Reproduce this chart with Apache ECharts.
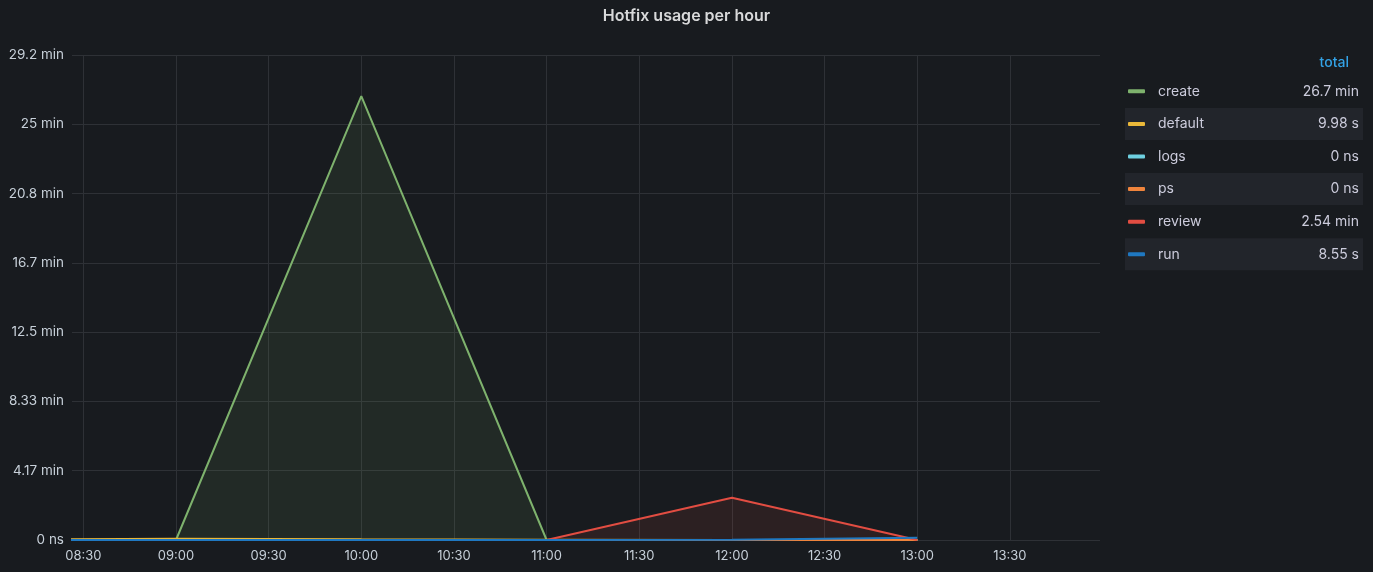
<!DOCTYPE html>
<html>
<head>
<meta charset="utf-8">
<script src="https://cdn.jsdelivr.net/npm/echarts@6/dist/echarts.min.js"></script>
<style>
html,body{margin:0;padding:0;background:#181b1f;}
#c{width:1373px;height:572px;}
</style>
</head>
<body>
<div id="c"></div>
<script>
// ---- data ----
const times = ['08:00', '09:00', '10:00', '11:00', '12:00', '13:00'];
const seriesNames = ['create', 'default', 'logs', 'ps', 'review', 'run'];
// values in seconds
const createVals  = [0, 0, 1602, 0, 0, 0];
const defaultVals = [2.0, 4.5, 2.5, 0.98, 0, 0];
const logsVals    = [0, 0, 0, 0, 0, 0];
const psVals      = [0, 0, 0, 0, 0, 0];
const reviewVals  = [0, 0, 0, 0, 152.4, 0];
const runVals     = [0, 0, 0, 0, 0.5, 8.05];
const yTickLabels = ['0 ns', '4.17 min', '8.33 min', '12.5 min', '16.7 min', '20.8 min', '25 min', '29.2 min'];
const xTickRange = ['08:30', '13:30'];   // first / last labelled tick, every 30 min
const xRange = ['08:26:20', '13:59:10']; // visible time window
const legendHeader = 'total';

// ---- helpers ----
function ts(s) {
  const p = s.split(':').map(Number);
  return new Date(2021, 5, 1, p[0], p[1], p[2] || 0).getTime();
}
function pad(n) { return (n < 10 ? '0' : '') + n; }
function fmtDur(sec) {
  if (sec <= 0) return '0 ns';
  if (sec >= 60) return Number((sec / 60).toPrecision(3)) + ' min';
  return Number(sec.toPrecision(3)) + ' s';
}

const FONT = 'Inter';
const allVals = [createVals, defaultVals, logsVals, psVals, reviewVals, runVals];
const colors = ['#7eb26d', '#eab839', '#6ed0e0', '#ef843c', '#e24d42', '#1f78c1'];

const series = seriesNames.map((name, i) => ({
  name: name,
  type: 'line',
  xAxisIndex: 0, yAxisIndex: 0,
  data: times.map((t, j) => [ts(t), allVals[i][j]]),
  symbol: 'none',
  lineStyle: { width: 2, color: colors[i] },
  itemStyle: { color: colors[i] },
  areaStyle: { color: colors[i], opacity: 0.1 },
  clip: true
}));

// layout of plot
const W = 1373, H = 572;
const plotL = 72, plotR = 1100, plotT = 55, plotB = 540;
const tMin = ts(xRange[0]), tMax = ts(xRange[1]);
const tFirst = ts(xTickRange[0]), tLast = ts(xTickRange[1]);
const pxPerMs = (plotR - plotL) / (tMax - tMin);
const g2Left = plotL + (tFirst - tMin) * pxPerMs;
const g2Right = (W - plotR) + (tMax - tLast) * pxPerMs;

// legend table as graphics
const graphics = [];
const rowTop = 75, rowH = 32.6;
graphics.push({
  type: 'text', x: 1349, y: 63,
  style: { text: legendHeader, fill: '#33a2e5', font: '500 14px ' + FONT, align: 'right', verticalAlign: 'middle' }
});
seriesNames.forEach((name, i) => {
  const yc = rowTop + rowH * i + rowH / 2;
  if (i % 2 === 1) {
    graphics.push({
      type: 'rect', shape: { x: 1125, y: yc - 16, width: 238, height: 32 },
      style: { fill: '#22252b' }, z: -1
    });
  }
  graphics.push({
    type: 'rect', shape: { x: 1128, y: yc - 2, width: 17, height: 4, r: 1 },
    style: { fill: colors[i] }
  });
  graphics.push({
    type: 'text', x: 1158, y: yc,
    style: { text: name, fill: '#ccccdc', font: '14px ' + FONT, verticalAlign: 'middle' }
  });
  const total = allVals[i].reduce((a, b) => a + b, 0);
  graphics.push({
    type: 'text', x: 1359, y: yc,
    style: { text: fmtDur(total), fill: '#ccccdc', font: '14px ' + FONT, align: 'right', verticalAlign: 'middle' }
  });
});

const gridLine = { color: '#2e3136', width: 1 };

const chart = echarts.init(document.getElementById('c'), null, { renderer: 'canvas' });
chart.setOption({
  backgroundColor: '#181b1f',
  animation: false,
  title: {
    text: 'Hotfix usage per hour',
    left: 'center', top: 3,
    textStyle: { color: '#d8d9da', fontSize: 16, fontWeight: 600, fontFamily: FONT }
  },
  grid: [
    { left: plotL, right: W - plotR, top: plotT, bottom: H - plotB, containLabel: false },
    { left: g2Left, right: g2Right, top: plotT, bottom: H - plotB, containLabel: false }
  ],
  xAxis: [
    {
      type: 'time', gridIndex: 0, min: tMin, max: tMax,
      axisLine: { show: false }, axisTick: { show: false },
      axisLabel: { show: false }, splitLine: { show: false }
    },
    {
      type: 'value', gridIndex: 1, min: tFirst, max: tLast, interval: 30 * 60 * 1000,
      axisLine: { show: false }, axisTick: { show: false },
      splitLine: { show: true, lineStyle: gridLine },
      axisLabel: {
        color: '#c7d0d9', fontSize: 13, fontFamily: FONT, margin: 10,
        formatter: function (v) { const d = new Date(v); return pad(d.getHours()) + ':' + pad(d.getMinutes()); }
      }
    }
  ],
  yAxis: [
    {
      type: 'value', gridIndex: 0, min: 0, max: 1750, interval: 250,
      axisLine: { show: false }, axisTick: { show: false },
      splitLine: { show: true, lineStyle: gridLine },
      axisLabel: {
        color: '#c7d0d9', fontSize: 13.5, fontFamily: FONT, margin: 8,
        formatter: function (v) { return yTickLabels[Math.round(v / 250)]; }
      }
    },
    {
      type: 'value', gridIndex: 1, min: 0, max: 1, show: false,
      splitLine: { show: false }
    }
  ],
  series: series,
  graphic: graphics
});
</script>
</body>
</html>
